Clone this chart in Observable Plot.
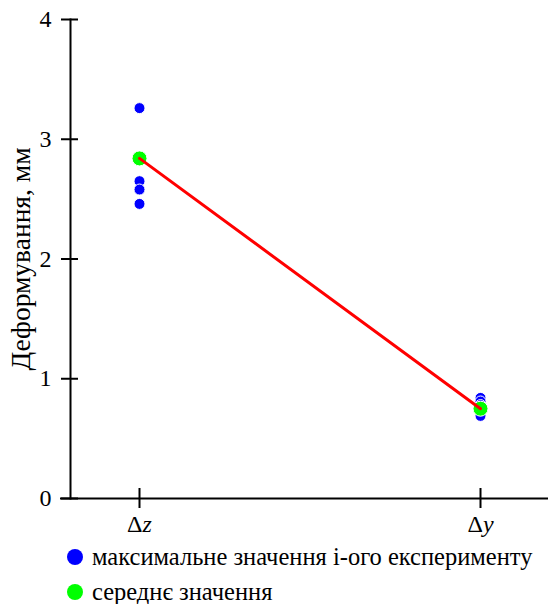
<!DOCTYPE html>
<html>
<head>
<meta charset="utf-8">
<script src="https://cdn.jsdelivr.net/npm/d3@7"></script>
<script src="https://cdn.jsdelivr.net/npm/@observablehq/plot@0.6"></script>
<style>
  html, body { margin: 0; padding: 0; background: #fff; }
  body, body *, svg text, svg tspan { font-family: "Liberation Serif" !important; }
</style>
</head>
<body>
<div id="chart"></div>
<div id="legend" style="font-size:24.5px; line-height:34.5px; padding-left:67px;"></div>
<script>
const categories = ["Δz", "Δy"];
const maxZ = [3.26, 2.65, 2.58, 2.46];
const maxY = [0.84, 0.81, 0.78, 0.72, 0.69];
const meanValues = [2.84, 0.75];
const yTicks = [0, 1, 2, 3, 4];
const yLabel = "Деформування, мм";
const legendLabels = ["максимальне значення і-ого експерименту", "середнє значення"];
const colors = ["#0000ff", "#00ff00"];
const lineColor = "#ff0000";
const FONT = "Liberation Serif";

const maxData = [
  ...maxZ.map(v => ({cat: categories[0], v})),
  ...maxY.map(v => ({cat: categories[1], v}))
];
const meanData = categories.map((c, i) => ({cat: c, v: meanValues[i]}));

const chart = Plot.plot({
  width: 548,
  height: 540,
  marginLeft: 70,
  marginRight: 0,
  marginTop: 19,
  marginBottom: 42,
  style: {fontFamily: FONT, fontSize: "24px", color: "#000", background: "#fff"},
  x: {type: "point", domain: categories, padding: 0.2},
  y: {domain: [0, 4]},
  marks: [
    Plot.ruleY([0], {stroke: "#000", strokeWidth: 2, insetLeft: -10}),
    Plot.frame({anchor: "left", stroke: "#000", strokeWidth: 2}),
    Plot.axisY({ticks: yTicks, tickSize: 9, tickPadding: 10, strokeWidth: 2, label: null, tickFormat: d3.format("d")}),
    Plot.axisY({ticks: yTicks, tickSize: -8, strokeWidth: 2, label: null, tickFormat: () => ""}),
    Plot.axisY({ticks: [], label: yLabel, labelAnchor: "center", labelArrow: "none", labelOffset: 60}),
    Plot.axisX({tickSize: 10, tickPadding: 6, strokeWidth: 2, label: null}),
    Plot.axisX({tickSize: -10, strokeWidth: 2, label: null, tickFormat: () => ""}),
    Plot.dot(maxData, {x: "cat", y: "v", r: 5.5, fill: colors[0], stroke: "#fff", strokeWidth: 1}),
    Plot.dot(meanData, {x: "cat", y: "v", r: 7.5, fill: colors[1], stroke: "#fff", strokeWidth: 1}),
    Plot.line(meanData, {x: "cat", y: "v", stroke: lineColor, strokeWidth: 3})
  ]
});
document.getElementById("chart").appendChild(chart);

d3.select(chart).selectAll("g[aria-label='y-axis label'] text").style("font-size", "27.5px");

// italicize the variable letter in x tick labels
d3.select(chart).selectAll("g[aria-label='x-axis tick label'] text").each(function() {
  const t = this.textContent;
  if (t.length === 2) {
    const sel = d3.select(this);
    sel.text(t[0]);
    sel.append("tspan").attr("font-style", "italic").text(t[1]);
  }
});

const legend = d3.select("#legend");
legendLabels.forEach((lab, i) => {
  const row = legend.append("div").style("display", "flex").style("align-items", "center");
  row.append("span")
    .style("width", "16px").style("height", "16px").style("border-radius", "50%")
    .style("display", "inline-block").style("margin-right", "9px")
    .style("background", colors[i]);
  row.append("span").text(lab);
});
</script>
</body>
</html>
